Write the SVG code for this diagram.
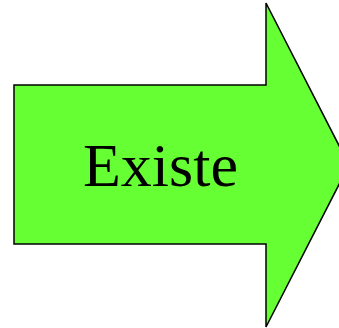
<svg xmlns="http://www.w3.org/2000/svg" width="339" height="328" viewBox="0 0 339 328">
<style>
.arrow{fill:#66ff33;stroke:#000;stroke-width:1.5;stroke-linejoin:miter}
.lbl{font-family:"Liberation Serif","Times New Roman",serif;font-size:62px;fill:#000}
</style>
<g id="arrow">
<polygon class="arrow" points="14,85 266,85 266,3 349,165 266,327 266,244 14,244"/>
<text class="lbl" x="160.5" y="186" text-anchor="middle">Existe</text>
</g>
</svg>
